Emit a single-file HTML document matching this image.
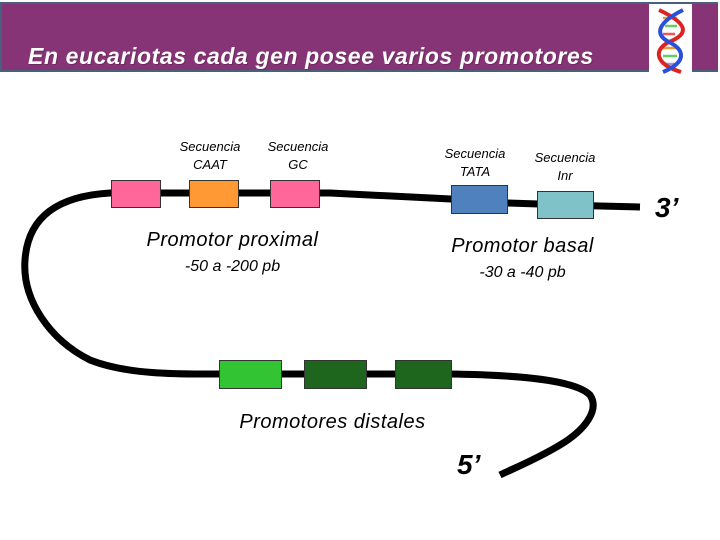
<!DOCTYPE html>
<html><head><meta charset="utf-8"><style>
body{margin:0;width:720px;height:540px;background:#fff;position:relative;overflow:hidden;font-family:"Liberation Sans",sans-serif}
.band{position:absolute;left:0;top:2px;width:716px;height:66px;background:#873476;border:2px solid #46607e;border-right:none}
.title{position:absolute;left:28px;top:43px;font-size:23px;font-weight:bold;font-style:italic;color:#fff;text-shadow:1px 1px 0 #6a2a5c;white-space:nowrap;letter-spacing:0.6px}
.icon{position:absolute;left:649px;top:4px;width:43px;height:72px;background:#fff}
.t{position:absolute;font-style:italic;color:#000;text-align:center;white-space:nowrap}
.s{font-size:12px;line-height:18px}
.b{position:absolute;border:1px solid #333;box-sizing:border-box}
</style></head><body>
<div class="band"></div>
<div class="title">En eucariotas cada gen posee varios promotores</div>
<div class="icon"><svg width="43" height="72" viewBox="0 0 43 72">
<g stroke-width="2.5">
<line x1="14" y1="14" x2="28" y2="14" stroke="#e9a030"/><line x1="16" y1="22" x2="28" y2="22" stroke="#6c6"/><line x1="14" y1="30" x2="26" y2="30" stroke="#e55"/>
<line x1="14" y1="44" x2="28" y2="44" stroke="#e9a030"/><line x1="14" y1="52" x2="28" y2="52" stroke="#6c6"/><line x1="16" y1="60" x2="28" y2="60" stroke="#99c"/></g>
<path d="M10 6 C40 20 40 30 20 38 C4 46 6 60 32 68" fill="none" stroke="#d22" stroke-width="4"/>
<path d="M34 6 C10 18 4 30 20 38 C36 46 38 58 14 68" fill="none" stroke="#2a4fd8" stroke-width="4"/>
</svg></div>
<svg style="position:absolute;left:0;top:0" width="720" height="540">
<path d="M640 207 L600 206 L507 203 L451 199 L330 193 L110 193 C60 196 28 215 25 260 C22 300 50 340 90 360 C130 376 190 374 220 374 L450 374 C520 375 575 380 590 395 C600 410 585 430 560 445 C535 460 510 470 500 475" fill="none" stroke="#000" stroke-width="7"/>
</svg>
<div class="b" style="left:111px;top:180px;width:50px;height:28px;background:#ff6699"></div>
<div class="b" style="left:189px;top:180px;width:50px;height:28px;background:#ff9933"></div>
<div class="b" style="left:270px;top:180px;width:50px;height:28px;background:#ff6699"></div>
<div class="b" style="left:451px;top:185px;width:57px;height:29px;background:#4f81bd"></div>
<div class="b" style="left:537px;top:191px;width:57px;height:28px;background:#7fc3c8"></div>
<div class="b" style="left:219px;top:360px;width:63px;height:29px;background:#33c433"></div>
<div class="b" style="left:304px;top:360px;width:63px;height:29px;background:#1e661e"></div>
<div class="b" style="left:395px;top:360px;width:57px;height:29px;background:#1e661e"></div>
<div class="t s" style="left:170px;top:138px;width:80px;font-size:13px">Secuencia<br>CAAT</div>
<div class="t s" style="left:258px;top:138px;width:80px;font-size:13px">Secuencia<br>GC</div>
<div class="t s" style="left:435px;top:145px;width:80px;font-size:13px">Secuencia<br>TATA</div>
<div class="t s" style="left:525px;top:149px;width:80px;font-size:13px">Secuencia<br>Inr</div>
<div class="t" style="left:110px;top:229px;width:245px;font-size:20px;letter-spacing:0.5px">Promotor proximal</div>
<div class="t" style="left:110px;top:258px;width:245px;font-size:16px">-50 a -200 pb</div>
<div class="t" style="left:400px;top:235px;width:245px;font-size:20px;letter-spacing:0.5px">Promotor basal</div>
<div class="t" style="left:400px;top:264px;width:245px;font-size:16px">-30 a -40 pb</div>
<div class="t" style="left:210px;top:411px;width:245px;font-size:20px;letter-spacing:0.5px">Promotores distales</div>
<div class="t" style="left:655px;top:192px;font-size:28px;font-weight:bold">3’</div>
<div class="t" style="left:457px;top:449px;font-size:28px;font-weight:bold">5’</div>
</body></html>
